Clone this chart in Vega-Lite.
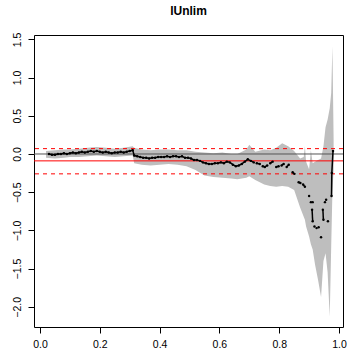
{
  "$schema": "https://vega.github.io/schema/vega-lite/v6.json",
  "autosize": "none",
  "width": 309,
  "height": 292,
  "padding": {"left": 34, "top": 35, "right": 4, "bottom": 27},
  "background": "white",
  "title": {"text": "lUnlim", "font": "Liberation Sans", "fontSize": 12, "fontWeight": "bold", "color": "black", "offset": 14},
  "config": {
    "view": {"stroke": "black", "strokeWidth": 1},
    "axis": {"grid": false, "domain": false, "tickColor": "black", "tickSize": 6, "labelFont": "Liberation Sans", "labelFontSize": 10.5, "labelColor": "black", "title": null}
  },
  "datasets": {
    "band": [
      {"x": 0.02, "lo": -0.05, "hi": 0.04},
      {"x": 0.05, "lo": -0.06, "hi": 0.05},
      {"x": 0.08, "lo": -0.05, "hi": 0.06},
      {"x": 0.10, "lo": -0.04, "hi": 0.06},
      {"x": 0.13, "lo": -0.04, "hi": 0.07},
      {"x": 0.16, "lo": -0.03, "hi": 0.08},
      {"x": 0.19, "lo": -0.02, "hi": 0.09},
      {"x": 0.22, "lo": -0.03, "hi": 0.08},
      {"x": 0.25, "lo": -0.04, "hi": 0.07},
      {"x": 0.28, "lo": -0.03, "hi": 0.08},
      {"x": 0.31, "lo": -0.02, "hi": 0.10},
      {"x": 0.315, "lo": -0.12, "hi": 0.08},
      {"x": 0.34, "lo": -0.14, "hi": 0.06},
      {"x": 0.37, "lo": -0.15, "hi": 0.05},
      {"x": 0.40, "lo": -0.14, "hi": 0.06},
      {"x": 0.43, "lo": -0.13, "hi": 0.06},
      {"x": 0.46, "lo": -0.14, "hi": 0.05},
      {"x": 0.49, "lo": -0.16, "hi": 0.05},
      {"x": 0.52, "lo": -0.21, "hi": 0.03},
      {"x": 0.55, "lo": -0.28, "hi": 0.02},
      {"x": 0.58, "lo": -0.30, "hi": 0.01},
      {"x": 0.61, "lo": -0.31, "hi": 0.02},
      {"x": 0.64, "lo": -0.32, "hi": 0.00},
      {"x": 0.66, "lo": -0.33, "hi": 0.00},
      {"x": 0.69, "lo": -0.31, "hi": 0.06},
      {"x": 0.70, "lo": -0.29, "hi": 0.12},
      {"x": 0.72, "lo": -0.34, "hi": 0.03},
      {"x": 0.75, "lo": -0.40, "hi": 0.06},
      {"x": 0.77, "lo": -0.42, "hi": 0.05},
      {"x": 0.79, "lo": -0.43, "hi": 0.08},
      {"x": 0.81, "lo": -0.42, "hi": 0.14},
      {"x": 0.83, "lo": -0.43, "hi": 0.10},
      {"x": 0.85, "lo": -0.47, "hi": 0.04},
      {"x": 0.87, "lo": -0.70, "hi": -0.06},
      {"x": 0.882, "lo": -0.82, "hi": -0.04},
      {"x": 0.886, "lo": -0.86, "hi": 0.10},
      {"x": 0.89, "lo": -0.95, "hi": -0.10},
      {"x": 0.90, "lo": -1.08, "hi": -0.20},
      {"x": 0.906, "lo": -1.18, "hi": 0.05},
      {"x": 0.912, "lo": -1.25, "hi": -0.12},
      {"x": 0.92, "lo": -1.45, "hi": -0.10},
      {"x": 0.93, "lo": -1.65, "hi": -0.08},
      {"x": 0.94, "lo": -1.87, "hi": -0.06},
      {"x": 0.948, "lo": -1.40, "hi": 0.10},
      {"x": 0.955, "lo": -1.30, "hi": 0.35},
      {"x": 0.962, "lo": -1.55, "hi": 0.45},
      {"x": 0.969, "lo": -2.13, "hi": 0.60},
      {"x": 0.974, "lo": -1.20, "hi": 0.80},
      {"x": 0.978, "lo": -0.50, "hi": 1.41},
      {"x": 0.982, "lo": -0.20, "hi": 0.20}
    ],
    "series": [
      {"x": 0.030, "y": 0.00, "seg": 1},
      {"x": 0.040, "y": -0.01, "seg": 1},
      {"x": 0.050, "y": -0.01, "seg": 1},
      {"x": 0.060, "y": 0.00, "seg": 1},
      {"x": 0.070, "y": 0.00, "seg": 1},
      {"x": 0.080, "y": 0.01, "seg": 1},
      {"x": 0.090, "y": 0.00, "seg": 1},
      {"x": 0.100, "y": 0.01, "seg": 1},
      {"x": 0.110, "y": 0.02, "seg": 1},
      {"x": 0.120, "y": 0.01, "seg": 1},
      {"x": 0.130, "y": 0.02, "seg": 1},
      {"x": 0.140, "y": 0.03, "seg": 1},
      {"x": 0.150, "y": 0.02, "seg": 1},
      {"x": 0.160, "y": 0.03, "seg": 1},
      {"x": 0.170, "y": 0.04, "seg": 1},
      {"x": 0.180, "y": 0.03, "seg": 1},
      {"x": 0.190, "y": 0.04, "seg": 1},
      {"x": 0.200, "y": 0.03, "seg": 1},
      {"x": 0.210, "y": 0.02, "seg": 1},
      {"x": 0.220, "y": 0.03, "seg": 1},
      {"x": 0.230, "y": 0.02, "seg": 1},
      {"x": 0.240, "y": 0.01, "seg": 1},
      {"x": 0.250, "y": 0.02, "seg": 1},
      {"x": 0.260, "y": 0.02, "seg": 1},
      {"x": 0.270, "y": 0.03, "seg": 1},
      {"x": 0.280, "y": 0.02, "seg": 1},
      {"x": 0.290, "y": 0.03, "seg": 1},
      {"x": 0.300, "y": 0.04, "seg": 1},
      {"x": 0.310, "y": 0.05, "seg": 1},
      {"x": 0.315, "y": -0.02, "seg": 1},
      {"x": 0.325, "y": -0.03, "seg": 1},
      {"x": 0.335, "y": -0.04, "seg": 1},
      {"x": 0.345, "y": -0.05, "seg": 1},
      {"x": 0.355, "y": -0.05, "seg": 1},
      {"x": 0.365, "y": -0.06, "seg": 1},
      {"x": 0.375, "y": -0.05, "seg": 1},
      {"x": 0.385, "y": -0.05, "seg": 1},
      {"x": 0.395, "y": -0.04, "seg": 1},
      {"x": 0.405, "y": -0.04, "seg": 1},
      {"x": 0.415, "y": -0.04, "seg": 1},
      {"x": 0.425, "y": -0.03, "seg": 1},
      {"x": 0.435, "y": -0.04, "seg": 1},
      {"x": 0.445, "y": -0.03, "seg": 1},
      {"x": 0.455, "y": -0.03, "seg": 1},
      {"x": 0.465, "y": -0.04, "seg": 1},
      {"x": 0.475, "y": -0.03, "seg": 1},
      {"x": 0.485, "y": -0.05, "seg": 1},
      {"x": 0.495, "y": -0.05, "seg": 1},
      {"x": 0.505, "y": -0.06, "seg": 1},
      {"x": 0.515, "y": -0.08, "seg": 1},
      {"x": 0.525, "y": -0.08, "seg": 1},
      {"x": 0.535, "y": -0.09, "seg": 1},
      {"x": 0.545, "y": -0.11, "seg": 1},
      {"x": 0.555, "y": -0.12, "seg": 1},
      {"x": 0.565, "y": -0.13, "seg": 1},
      {"x": 0.575, "y": -0.13, "seg": 1},
      {"x": 0.585, "y": -0.12, "seg": 1},
      {"x": 0.595, "y": -0.12, "seg": 1},
      {"x": 0.605, "y": -0.11, "seg": 1},
      {"x": 0.615, "y": -0.12, "seg": 1},
      {"x": 0.625, "y": -0.10, "seg": 1},
      {"x": 0.635, "y": -0.11, "seg": 1},
      {"x": 0.645, "y": -0.14, "seg": 1},
      {"x": 0.655, "y": -0.16, "seg": 1},
      {"x": 0.665, "y": -0.15, "seg": 1},
      {"x": 0.675, "y": -0.13, "seg": 1},
      {"x": 0.685, "y": -0.10, "seg": 1},
      {"x": 0.695, "y": -0.07, "seg": 1},
      {"x": 0.705, "y": -0.09, "seg": 1},
      {"x": 0.715, "y": -0.11, "seg": 1},
      {"x": 0.725, "y": -0.12, "seg": 2},
      {"x": 0.735, "y": -0.13, "seg": 2},
      {"x": 0.745, "y": -0.16, "seg": 3},
      {"x": 0.752, "y": -0.17, "seg": 3},
      {"x": 0.760, "y": -0.15, "seg": 3},
      {"x": 0.770, "y": -0.12, "seg": 4},
      {"x": 0.778, "y": -0.10, "seg": 4},
      {"x": 0.790, "y": -0.17, "seg": 5},
      {"x": 0.798, "y": -0.16, "seg": 5},
      {"x": 0.808, "y": -0.15, "seg": 6},
      {"x": 0.815, "y": -0.13, "seg": 6},
      {"x": 0.825, "y": -0.17, "seg": 7},
      {"x": 0.832, "y": -0.14, "seg": 7},
      {"x": 0.845, "y": -0.24, "seg": 8},
      {"x": 0.851, "y": -0.26, "seg": 8},
      {"x": 0.865, "y": -0.37, "seg": 9},
      {"x": 0.871, "y": -0.38, "seg": 9},
      {"x": 0.880, "y": -0.40, "seg": 10},
      {"x": 0.886, "y": -0.43, "seg": 10},
      {"x": 0.900, "y": -0.55, "seg": 11},
      {"x": 0.906, "y": -0.63, "seg": 12},
      {"x": 0.912, "y": -0.63, "seg": 13},
      {"x": 0.910, "y": -0.73, "seg": 14},
      {"x": 0.912, "y": -0.88, "seg": 14},
      {"x": 0.918, "y": -0.95, "seg": 15},
      {"x": 0.925, "y": -0.97, "seg": 16},
      {"x": 0.932, "y": -0.96, "seg": 17},
      {"x": 0.940, "y": -1.09, "seg": 18},
      {"x": 0.946, "y": -0.73, "seg": 19},
      {"x": 0.948, "y": -0.86, "seg": 19},
      {"x": 0.953, "y": -0.63, "seg": 20},
      {"x": 0.957, "y": -0.60, "seg": 21},
      {"x": 0.963, "y": -0.88, "seg": 22},
      {"x": 0.975, "y": -0.55, "seg": 23},
      {"x": 0.976, "y": -0.25, "seg": 23},
      {"x": 0.980, "y": 0.04, "seg": 23}
    ],
    "hlines": [
      {"y": 0.0, "kind": "zero"},
      {"y": -0.09, "kind": "mean"},
      {"y": 0.07, "kind": "upper"},
      {"y": -0.26, "kind": "lower"}
    ]
  },
  "layer": [
    {
      "data": {"name": "band"},
      "mark": {"type": "area", "color": "#BEBEBE", "opacity": 1, "interpolate": "linear"},
      "encoding": {
        "x": {"field": "x", "type": "quantitative", "scale": {"domain": [-0.0201, 1.0134], "nice": false, "zero": false},
              "axis": {"values": [0, 0.2, 0.4, 0.6, 0.8, 1.0], "format": ".1f", "labelPadding": 6}},
        "y": {"field": "lo", "type": "quantitative", "scale": {"domain": [-2.264, 1.557], "nice": false, "zero": false},
              "axis": {"values": [-2, -1.5, -1, -0.5, 0, 0.5, 1, 1.5], "format": ".1f", "labelAngle": -90, "labelAlign": "center", "labelBaseline": "bottom", "labelPadding": 6}},
        "y2": {"field": "hi"}
      }
    },
    {
      "data": {"name": "hlines"},
      "transform": [{"filter": "datum.kind == 'zero'"}],
      "mark": {"type": "rule", "color": "#555555", "strokeWidth": 1},
      "encoding": {"y": {"field": "y", "type": "quantitative"}}
    },
    {
      "data": {"name": "hlines"},
      "transform": [{"filter": "datum.kind == 'mean'"}],
      "mark": {"type": "rule", "color": "#FF0000", "strokeWidth": 1},
      "encoding": {"y": {"field": "y", "type": "quantitative"}}
    },
    {
      "data": {"name": "hlines"},
      "transform": [{"filter": "datum.kind == 'upper' || datum.kind == 'lower'"}],
      "mark": {"type": "rule", "color": "#FF0000", "strokeWidth": 1, "strokeDash": [4, 4]},
      "encoding": {"y": {"field": "y", "type": "quantitative"}}
    },
    {
      "data": {"name": "series"},
      "mark": {"type": "line", "color": "black", "strokeWidth": 1.5},
      "encoding": {
        "x": {"field": "x", "type": "quantitative"},
        "y": {"field": "y", "type": "quantitative"},
        "detail": {"field": "seg", "type": "nominal"}
      }
    },
    {
      "data": {"name": "series"},
      "mark": {"type": "point", "filled": true, "shape": "circle", "color": "black", "size": 6, "opacity": 1},
      "encoding": {
        "x": {"field": "x", "type": "quantitative"},
        "y": {"field": "y", "type": "quantitative"}
      }
    }
  ]
}
